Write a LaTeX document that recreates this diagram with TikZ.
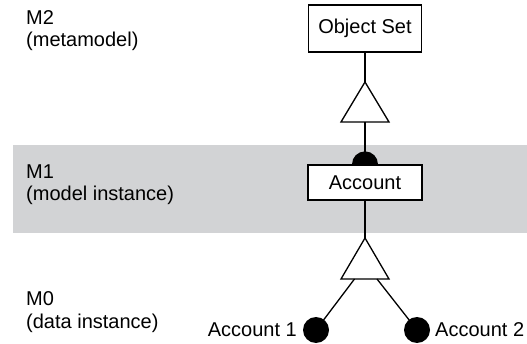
\documentclass[tikz,border=0pt]{standalone}
\usepackage{fontspec}
\setmainfont{Liberation Sans}
\begin{document}
\begin{tikzpicture}[x=1pt,y=1pt,
  lbl/.style={inner sep=0pt,font=\fontsize{20}{23}\selectfont},
  classbox/.style={draw,line width=1.3pt,fill=white,inner sep=0pt,font=\fontsize{20}{23}\selectfont},
  dot/.style={circle,fill=black,inner sep=0pt,minimum size=26pt},
  wire/.style={line width=1.3pt},
  tri/.style={draw,line width=1.3pt,fill=white,line join=miter}]
\useasboundingbox (0,0) rectangle (527,-344);
% M1 layer band
\fill[fill={rgb,255:red,210;green,211;blue,213}] (13,-145) rectangle (527,-233);

% layer labels
\node[lbl,anchor=base west] (m2) at (26,-25) {M2};
\node[lbl,anchor=base west] (m2d) at (26,-47) {(metamodel)};
\node[lbl,anchor=base west] (m1) at (26,-179) {M1};
\node[lbl,anchor=base west] (m1d) at (26,-201) {(model instance)};
\node[lbl,anchor=base west] (m0) at (26,-306) {M0};
\node[lbl,anchor=base west] (m0d) at (26,-328) {(data instance)};

% classes
\node[classbox,minimum width=113pt,minimum height=47pt] (objset) at (365,-28.5) {Object Set};
\node[classbox,minimum width=114pt,minimum height=35pt] (account) at (365,-182.5) {Account};

% generalisation triangle between Object Set and Account
\coordinate (t1apex) at (365,-82);
\coordinate (t1base) at (365,-122);
\draw[wire] (objset.south) -- (t1apex);
\draw[tri] (t1apex) -- (389,-122) -- (341,-122) -- cycle;
\draw[wire] (t1base) -- (account.north);
% filled half disc on top of Account
\fill (account.north) ++(-13,0) arc[start angle=180,end angle=0,radius=13] -- cycle;

% instance triangle below Account
\coordinate (t2apex) at (365,-238);
\coordinate (t2l) at (354.5,-279);
\coordinate (t2r) at (377,-279);
\draw[wire] (account.south) -- (t2apex);
\draw[tri] (t2apex) -- (389,-279) -- (341,-279) -- cycle;

% instances
\node[dot] (a1) at (316,-330) {};
\node[dot] (a2) at (417,-330) {};
\draw[wire] (t2l) -- (a1.center);
\draw[wire] (t2r) -- (a2.center);
\node[lbl,anchor=east] (a1l) at (297,-330) {Account 1};
\node[lbl,anchor=west] (a2l) at (435,-330) {Account 2};
\end{tikzpicture}
\end{document}
